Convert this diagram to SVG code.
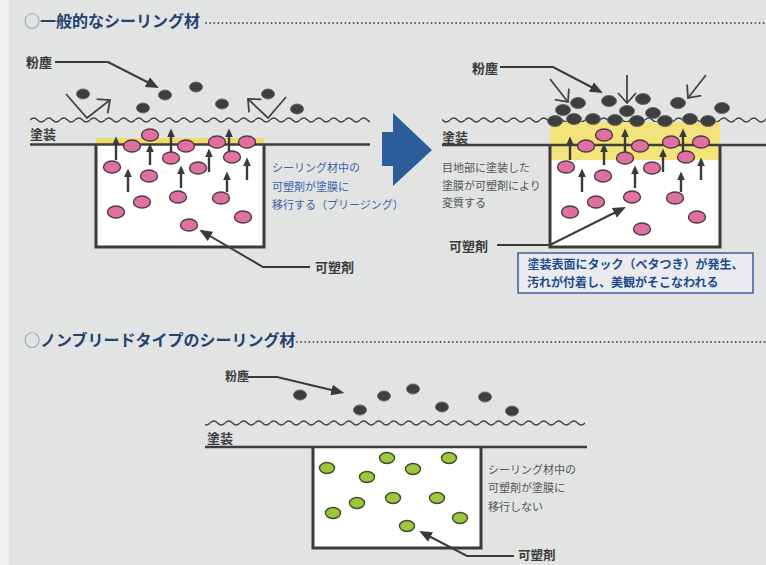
<svg xmlns="http://www.w3.org/2000/svg" width="766" height="565" viewBox="0 0 766 565">
<style>
.t{font-family:"Noto Sans CJK JP","Noto Sans",sans-serif}
.title{font-size:16px;font-weight:700;fill:#24426e}
.ring{font-weight:400;fill:#6f7f92}
.lbl{font-size:13px;font-weight:700;fill:#3c3c3c}
.blue{font-size:11px;fill:#3b62a6}
.gray{font-size:11px;fill:#555}
.note{font-size:12px;font-weight:700;fill:#1f4a8c}
.dots{stroke:#555;stroke-width:1.8;stroke-dasharray:0.1 4;stroke-linecap:round}
.base{stroke:#3e3e3e;stroke-width:2.6;fill:none}
.box{stroke:#3a3a3a;stroke-width:3;fill:none}
.dust{fill:#3e3e3e;stroke:#6a6a6a;stroke-width:1}
.pl{fill:#e070a2;stroke:#4a3a42;stroke-width:1.4}
.gr{fill:#9cc83c;stroke:#3e4a2a;stroke-width:1.4}
.lead{stroke:#3a3a3a;stroke-width:2;fill:none}
.upa{stroke:#3a3a3a;stroke-width:2.4;fill:none;marker-end:url(#uh)}
.opn{stroke:#444;stroke-width:1.8;fill:none}
</style>
<defs>
<marker id="lh" viewBox="0 0 12 10" refX="8" refY="5" markerWidth="13" markerHeight="11" markerUnits="userSpaceOnUse" orient="auto"><path d="M0 0 L12 5 L0 10 z" fill="#3a3a3a"/></marker>
<marker id="uh" viewBox="0 0 10 9" refX="6" refY="4.5" markerWidth="9" markerHeight="8" markerUnits="userSpaceOnUse" orient="auto"><path d="M0 0 L10 4.5 L0 9 z" fill="#3a3a3a"/></marker>
<marker id="oh" viewBox="0 0 12 20" refX="11" refY="10" markerWidth="12" markerHeight="20" markerUnits="userSpaceOnUse" orient="auto"><path d="M1 1 L11 10 L1 19" fill="none" stroke="#444" stroke-width="1.8"/></marker>
<pattern id="w1" patternUnits="userSpaceOnUse" x="0" y="115" width="15" height="10"><path d="M0 5 Q3.75 1 7.5 5 T15 5" fill="none" stroke="#444" stroke-width="1.3"/></pattern>
<pattern id="w2" patternUnits="userSpaceOnUse" x="0" y="418" width="15" height="10"><path d="M0 5 Q3.75 1 7.5 5 T15 5" fill="none" stroke="#444" stroke-width="1.3"/></pattern>
</defs>
<rect width="766" height="565" fill="#e2e4e4"/>
<rect width="9" height="565" fill="#eef0ef"/>

<g id="title-general">
<text class="t title" x="24" y="27"><tspan class="ring">○</tspan>一般的なシーリング材</text>
<line class="dots" x1="206" y1="23" x2="766" y2="23"/>
</g>

<g id="diagram-general-before">
<rect x="30" y="115" width="340" height="10" fill="url(#w1)"/>
<rect x="96" y="138" width="168" height="7" fill="#f0dc6a"/>
<rect x="96" y="144" width="168" height="103" fill="#fff"/>
<path class="box" d="M96 144 V247 H264 V144"/>
<line class="base" x1="30" y1="144.5" x2="370" y2="144.5"/>
<g id="dust-left">
<ellipse class="dust" cx="83" cy="94" rx="6.5" ry="5"/>
<ellipse class="dust" cx="143" cy="108" rx="6.5" ry="5"/>
<ellipse class="dust" cx="165" cy="95" rx="6.5" ry="5"/>
<ellipse class="dust" cx="196" cy="87" rx="6.5" ry="5"/>
<ellipse class="dust" cx="222" cy="104" rx="6.5" ry="5"/>
<ellipse class="dust" cx="268" cy="94" rx="6.5" ry="5"/>
<ellipse class="dust" cx="297" cy="109" rx="6.5" ry="5"/>
</g>
<g id="plasticizer-left">
<ellipse class="pl" cx="150" cy="135" rx="8.5" ry="6"/>
<ellipse class="pl" cx="132" cy="146" rx="8.5" ry="6"/>
<ellipse class="pl" cx="186" cy="146" rx="8.5" ry="6"/>
<ellipse class="pl" cx="217" cy="142" rx="8.5" ry="6"/>
<ellipse class="pl" cx="247" cy="142" rx="8.5" ry="6"/>
<ellipse class="pl" cx="112" cy="167" rx="8.5" ry="6"/>
<ellipse class="pl" cx="171" cy="158" rx="8.5" ry="6"/>
<ellipse class="pl" cx="149" cy="176" rx="8.5" ry="6"/>
<ellipse class="pl" cx="198" cy="168" rx="8.5" ry="6"/>
<ellipse class="pl" cx="232" cy="157" rx="8.5" ry="6"/>
<ellipse class="pl" cx="142" cy="202" rx="8.5" ry="6"/>
<ellipse class="pl" cx="178" cy="197" rx="8.5" ry="6"/>
<ellipse class="pl" cx="221" cy="198" rx="8.5" ry="6"/>
<ellipse class="pl" cx="116" cy="212" rx="8.5" ry="6"/>
<ellipse class="pl" cx="243" cy="217" rx="8.5" ry="6"/>
<ellipse class="pl" cx="189" cy="225" rx="8.5" ry="6"/>
</g>
</g>

<g id="diagram-general-after">
<rect x="442" y="115" width="324" height="10" fill="url(#w1)"/>
<rect x="550" y="122" width="170" height="38" fill="#f2e47a"/>
<rect x="550" y="160" width="170" height="87" fill="#fff"/>
<path class="box" d="M550 145 V247 H720 V145"/>
<line class="base" x1="442" y1="145" x2="766" y2="145"/>
<g id="dust-right">
<ellipse class="dust" cx="555" cy="121" rx="7.5" ry="5.5"/>
<ellipse class="dust" cx="574" cy="119" rx="7.5" ry="5.5"/>
<ellipse class="dust" cx="593" cy="119" rx="7.5" ry="5.5"/>
<ellipse class="dust" cx="615" cy="120" rx="7.5" ry="5.5"/>
<ellipse class="dust" cx="637" cy="121" rx="7.5" ry="5.5"/>
<ellipse class="dust" cx="665" cy="121" rx="7.5" ry="5.5"/>
<ellipse class="dust" cx="690" cy="119" rx="7.5" ry="5.5"/>
<ellipse class="dust" cx="708" cy="121" rx="7.5" ry="5.5"/>
<ellipse class="dust" cx="563" cy="110" rx="7.5" ry="5.5"/>
<ellipse class="dust" cx="627" cy="111" rx="7.5" ry="5.5"/>
<ellipse class="dust" cx="653" cy="113" rx="7.5" ry="5.5"/>
<ellipse class="dust" cx="578" cy="103" rx="7.5" ry="5.5"/>
<ellipse class="dust" cx="609" cy="101" rx="7.5" ry="5.5"/>
<ellipse class="dust" cx="643" cy="99" rx="7.5" ry="5.5"/>
<ellipse class="dust" cx="678" cy="103" rx="7.5" ry="5.5"/>
<ellipse class="dust" cx="722" cy="108" rx="7.5" ry="5.5"/>
</g>
<g id="plasticizer-right">
<ellipse class="pl" cx="604" cy="135" rx="8.5" ry="6"/>
<ellipse class="pl" cx="586" cy="146" rx="8.5" ry="6"/>
<ellipse class="pl" cx="640" cy="146" rx="8.5" ry="6"/>
<ellipse class="pl" cx="671" cy="142" rx="8.5" ry="6"/>
<ellipse class="pl" cx="701" cy="142" rx="8.5" ry="6"/>
<ellipse class="pl" cx="566" cy="167" rx="8.5" ry="6"/>
<ellipse class="pl" cx="625" cy="158" rx="8.5" ry="6"/>
<ellipse class="pl" cx="603" cy="176" rx="8.5" ry="6"/>
<ellipse class="pl" cx="652" cy="168" rx="8.5" ry="6"/>
<ellipse class="pl" cx="686" cy="157" rx="8.5" ry="6"/>
<ellipse class="pl" cx="596" cy="202" rx="8.5" ry="6"/>
<ellipse class="pl" cx="632" cy="197" rx="8.5" ry="6"/>
<ellipse class="pl" cx="675" cy="198" rx="8.5" ry="6"/>
<ellipse class="pl" cx="570" cy="212" rx="8.5" ry="6"/>
<ellipse class="pl" cx="697" cy="217" rx="8.5" ry="6"/>
<ellipse class="pl" cx="642" cy="229" rx="8.5" ry="6"/>
</g>
</g>

<g id="transition-arrow">
<polygon points="382,132 393,132 393,113 432,150 393,186 393,166 382,166" fill="#2c5c99"/>
</g>

<g id="title-nonbleed">
<text class="t title" x="24" y="346"><tspan class="ring">○</tspan>ノンブリードタイプのシーリング材</text>
<line class="dots" x1="297" y1="342" x2="766" y2="342"/>
</g>

<g id="diagram-nonbleed">
<rect x="205" y="418" width="380" height="10" fill="url(#w2)"/>
<rect x="313" y="447" width="168" height="101" fill="#fff"/>
<path class="box" d="M313 447 V548 H481 V447"/>
<line class="base" x1="205" y1="447" x2="587" y2="447"/>
<g id="dust-bottom">
<ellipse class="dust" cx="300" cy="395" rx="6.5" ry="5"/>
<ellipse class="dust" cx="360" cy="410" rx="6.5" ry="5"/>
<ellipse class="dust" cx="384" cy="396" rx="6.5" ry="5"/>
<ellipse class="dust" cx="413" cy="389" rx="6.5" ry="5"/>
<ellipse class="dust" cx="442" cy="407" rx="6.5" ry="5"/>
<ellipse class="dust" cx="485" cy="397" rx="6.5" ry="5"/>
<ellipse class="dust" cx="512" cy="411" rx="6.5" ry="5"/>
</g>
<g id="plasticizer-green">
<ellipse class="gr" cx="327" cy="468" rx="7.5" ry="5.5"/>
<ellipse class="gr" cx="387" cy="458" rx="7.5" ry="5.5"/>
<ellipse class="gr" cx="413" cy="469" rx="7.5" ry="5.5"/>
<ellipse class="gr" cx="449" cy="458" rx="7.5" ry="5.5"/>
<ellipse class="gr" cx="367" cy="477" rx="7.5" ry="5.5"/>
<ellipse class="gr" cx="357" cy="503" rx="7.5" ry="5.5"/>
<ellipse class="gr" cx="393" cy="498" rx="7.5" ry="5.5"/>
<ellipse class="gr" cx="437" cy="498" rx="7.5" ry="5.5"/>
<ellipse class="gr" cx="333" cy="513" rx="7.5" ry="5.5"/>
<ellipse class="gr" cx="460" cy="518" rx="7.5" ry="5.5"/>
<ellipse class="gr" cx="407" cy="526" rx="7.5" ry="5.5"/>
</g>
</g>

<g id="connectors">
<polyline class="lead" points="55,62 108,62 155,86" marker-end="url(#lh)"/>
<polyline class="lead" points="310,267 263,267 203,232" marker-end="url(#lh)"/>
<polyline class="lead" points="500,67 553,67 599,91" marker-end="url(#lh)"/>
<polyline class="lead" points="497,245 550,245 622,209" marker-end="url(#lh)"/>
<polyline class="lead" points="248,377 277,377 340,392" marker-end="url(#lh)"/>
<polyline class="lead" points="514,556 467,556 423,533" marker-end="url(#lh)"/>
<polyline class="opn" points="66,94 87,118 110,100" marker-end="url(#oh)"/>
<polyline class="opn" points="286,97 268,118 248,99" marker-end="url(#oh)"/>
<line class="opn" x1="550" y1="79" x2="568" y2="102" marker-end="url(#oh)"/>
<line class="opn" x1="627" y1="75" x2="627" y2="103" marker-end="url(#oh)"/>
<line class="opn" x1="706" y1="75" x2="688" y2="98" marker-end="url(#oh)"/>
<g id="migration-left">
<line class="upa" x1="116" y1="160" x2="116" y2="140"/>
<line class="upa" x1="150" y1="165" x2="150" y2="147"/>
<line class="upa" x1="171" y1="152" x2="171" y2="132"/>
<line class="upa" x1="128" y1="192" x2="128" y2="172"/>
<line class="upa" x1="181" y1="188" x2="181" y2="169"/>
<line class="upa" x1="209" y1="172" x2="209" y2="152"/>
<line class="upa" x1="229" y1="152" x2="229" y2="132"/>
<line class="upa" x1="227" y1="192" x2="227" y2="175"/>
<line class="upa" x1="247" y1="180" x2="247" y2="161"/>
</g>
<g id="migration-right">
<line class="upa" x1="570" y1="160" x2="570" y2="140"/>
<line class="upa" x1="604" y1="165" x2="604" y2="147"/>
<line class="upa" x1="625" y1="152" x2="625" y2="132"/>
<line class="upa" x1="582" y1="192" x2="582" y2="172"/>
<line class="upa" x1="635" y1="188" x2="635" y2="169"/>
<line class="upa" x1="663" y1="172" x2="663" y2="152"/>
<line class="upa" x1="683" y1="152" x2="683" y2="132"/>
<line class="upa" x1="681" y1="192" x2="681" y2="175"/>
<line class="upa" x1="701" y1="180" x2="701" y2="161"/>
</g>
</g>

<g id="label-dust-left"><text class="t lbl" x="26" y="67">粉塵</text></g>
<g id="label-coating-left"><text class="t lbl" x="30" y="139">塗装</text></g>
<g id="label-plasticizer-left"><text class="t lbl" x="315" y="272">可塑剤</text></g>
<g id="note-left">
<text class="t blue" x="272" y="172">シーリング材中の</text>
<text class="t blue" x="272" y="191">可塑剤が塗膜に</text>
<text class="t blue" x="272" y="209">移行する（プリージング）</text>
</g>
<g id="label-dust-right"><text class="t lbl" x="472" y="73">粉塵</text></g>
<g id="label-coating-right"><text class="t lbl" x="442" y="142">塗装</text></g>
<g id="note-right">
<text class="t gray" x="442" y="172">目地部に塗装した</text>
<text class="t gray" x="442" y="190">塗膜が可塑剤により</text>
<text class="t gray" x="442" y="207">変質する</text>
</g>
<g id="label-plasticizer-right"><text class="t lbl" x="449" y="251">可塑剤</text></g>
<g id="callout-tack">
<rect x="518" y="253" width="235" height="40" fill="#e9ebee" stroke="#3a5f9a" stroke-width="1.5"/>
<text class="t note" x="635.5" y="269" text-anchor="middle">塗装表面にタック（ベタつき）が発生、</text>
<text class="t note" x="527" y="287">汚れが付着し、美観がそこなわれる</text>
</g>
<g id="label-dust-bottom"><text class="t lbl" x="225" y="381" style="font-size:12px">粉塵</text></g>
<g id="label-coating-bottom"><text class="t lbl" x="207" y="443">塗装</text></g>
<g id="note-bottom">
<text class="t gray" x="488" y="474">シーリング材中の</text>
<text class="t gray" x="488" y="492">可塑剤が塗膜に</text>
<text class="t gray" x="488" y="511">移行しない</text>
</g>
<g id="label-plasticizer-bottom"><text class="t lbl" x="518" y="560" style="font-size:12.5px">可塑剤</text></g>
</svg>
